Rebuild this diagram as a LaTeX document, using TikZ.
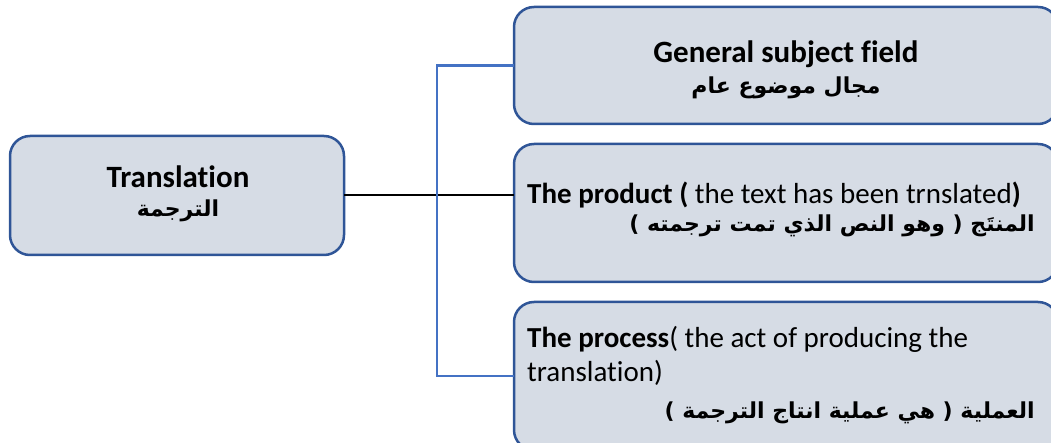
\documentclass[tikz,border=0pt]{standalone}
\usepackage{fontspec}
\setmainfont{Carlito}[Ligatures=NoCommon]
\newfontfamily\arfont[Script=Arabic]{DejaVu Sans}
\TeXXeTstate=1
\definecolor{boxfill}{HTML}{D6DCE5}
\definecolor{boxline}{HTML}{2F5597}
\definecolor{conn}{HTML}{4472C4}
\begin{document}
\begin{tikzpicture}[x=1pt,y=-1pt,
  box/.style={draw=boxline, fill=boxfill, line width=2.5pt, rounded corners=20pt, inner sep=0pt, outer sep=0pt},
  en/.style={font=\fontsize{29}{34}\selectfont, inner sep=0pt, anchor=base west},
  enc/.style={font=\bfseries\fontsize{31}{36}\selectfont, inner sep=0pt, anchor=base},
  ar/.style={font=\arfont\bfseries\fontsize{22}{27}\selectfont, inner sep=0pt, anchor=base east},
  arc/.style={font=\arfont\bfseries\fontsize{22}{27}\selectfont, inner sep=0pt, anchor=base},
  blueconn/.style={draw=conn, line width=2.5pt},
  blackconn/.style={draw=black, line width=2pt}
]
\useasboundingbox (0,0) rectangle (1051,443);
% boxes
\node[box, minimum width=334pt, minimum height=119pt] (left) at (177,195.5) {};
\node[box, minimum width=544pt, minimum height=117pt] (top) at (786,65.5) {};
\node[box, minimum width=544pt, minimum height=138pt] (mid) at (786,213) {};
\node[box, minimum width=544pt, minimum height=148pt] (bot) at (786,376) {};
% connectors
\draw[blackconn] (left.east) -- (left.east -| mid.west);
\draw[blueconn] (top.west) -- ++(-77,0) coordinate (elbow) |- (bot.west);
% texts
\node[enc] (t1) at (178,188) {Translation};
\node[arc] (t2) at (178,217) {\beginR الترجمة\endR};
\node[enc] (g1) at (786,63) {General subject field};
\node[arc] (g2) at (786,94) {\beginR مجال موضوع عام\endR};
\node[en] (p1) at (527,204) {\textbf{The product (} the text has been trnslated\textbf{)}};
\node[ar] (p2) at (1035,232) {\beginR المنتَج ( وهو النص الذي تمت ترجمته )\endR};
\node[en] (q1) at (527,347) {\textbf{The process}( the act of producing the};
\node[en] (q2) at (527,381) {translation)};
\node[ar] (q3) at (1035,418) {\beginR العملية ( هي عملية انتاج الترجمة )\endR};
\end{tikzpicture}
\end{document}
